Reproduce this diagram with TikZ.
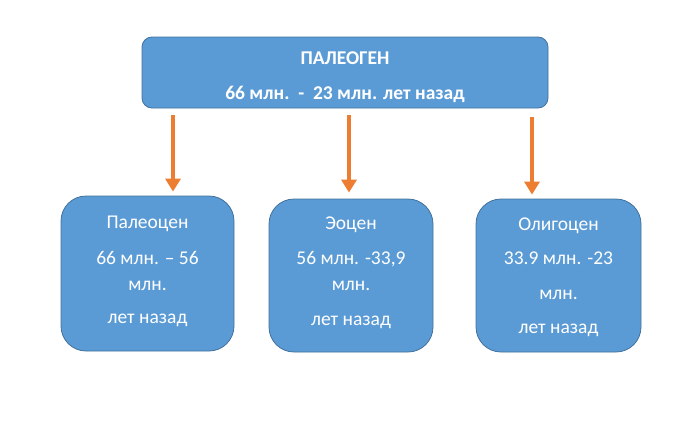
\documentclass[tikz,border=0pt]{standalone}
\usepackage{fontspec}
\setmainfont{Carlito}
\usetikzlibrary{arrows.meta}
\definecolor{boxblue}{HTML}{5B9BD5}
\definecolor{boxline}{HTML}{41719C}
\definecolor{arrorange}{HTML}{ED7D31}
\begin{document}
\begin{tikzpicture}[
  x=1pt, y=-1pt,
  period/.style={rectangle, draw=boxline, fill=boxblue, text=white, align=center, line width=0.8pt, font=\fontsize{19.5}{26}\selectfont},
  era/.style={period, rounded corners=10pt, minimum width=406pt, minimum height=71pt, font=\fontsize{19.5}{35}\selectfont\bfseries},
  epoch/.style={period, rounded corners=25pt, minimum height=153pt},
  down/.style={draw=arrorange, line width=4.5pt, -{Triangle[width=15pt,length=13pt]}}
]
\useasboundingbox (0,0) rectangle (700,431);

\node[era] (paleogene) at (345,72.5) {\rule{0pt}{21.5pt}ПАЛЕОГЕН\\66 млн.\ \ -\ \ 23 млн. лет назад};

\node[epoch, minimum width=173pt, minimum height=155pt] (paleocene) at (147.5,273.5) {Палеоцен\\[10pt]66 млн. – 56\\млн.\\[7pt]лет назад\rule[-8pt]{0pt}{0pt}};
\node[epoch, minimum width=164pt] (eocene) at (351,275.5) {Эоцен\\[9pt]56 млн. -33,9\\млн.\\[9pt]лет назад\rule[-9pt]{0pt}{0pt}};
\node[epoch, minimum width=165pt] (oligocene) at (558.5,275.5) {\rule{0pt}{15.6pt}Олигоцен\\[8pt]33.9 млн. -23\\[9pt]млн.\\[8pt]лет назад};

\draw[down, shorten <=7pt, shorten >=4pt] ([xshift=-172pt]paleogene.south) -- ([xshift=25.5pt]paleocene.north);
\draw[down, shorten <=7pt, shorten >=6pt] ([xshift=4pt]paleogene.south) -- ([xshift=-2pt]eocene.north);
\draw[down, shorten <=9pt, shorten >=4pt] ([xshift=187pt]paleogene.south) -- ([xshift=-26.5pt]oligocene.north);
\end{tikzpicture}
\end{document}
